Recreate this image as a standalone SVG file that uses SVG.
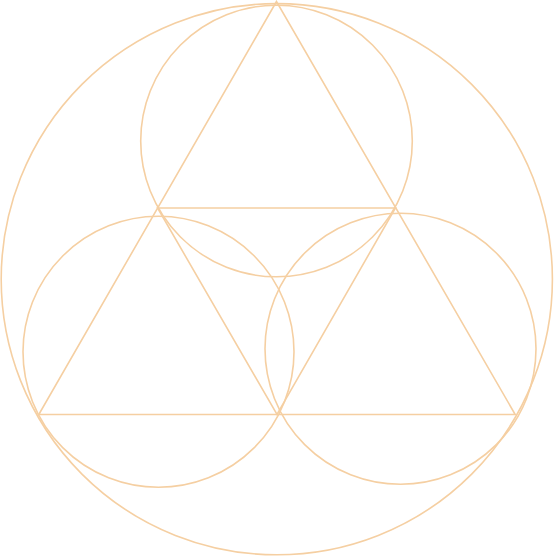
<svg xmlns="http://www.w3.org/2000/svg" width="554" height="557" viewBox="0 0 554 557">
<style>.s{fill:none;stroke:#F5CFA2;stroke-width:1.6}</style>
<rect width="554" height="557" fill="#ffffff"/>
<g id="outer"><circle class="s" cx="276.8" cy="279.2" r="275.6"/></g>
<g id="circle-top"><circle class="s" cx="276.5" cy="141" r="135.8"/></g>
<g id="circle-left"><circle class="s" cx="158.5" cy="351.8" r="135.5"/></g>
<g id="circle-right"><circle class="s" cx="400.5" cy="348.8" r="135.5"/></g>
<g id="triangles">
<polygon class="s" points="276.5,1.5 38.8,414.5 515.2,414.5"/>
<polygon class="s" points="157.6,208 395.4,208 277,414.5"/>
</g>
</svg>
